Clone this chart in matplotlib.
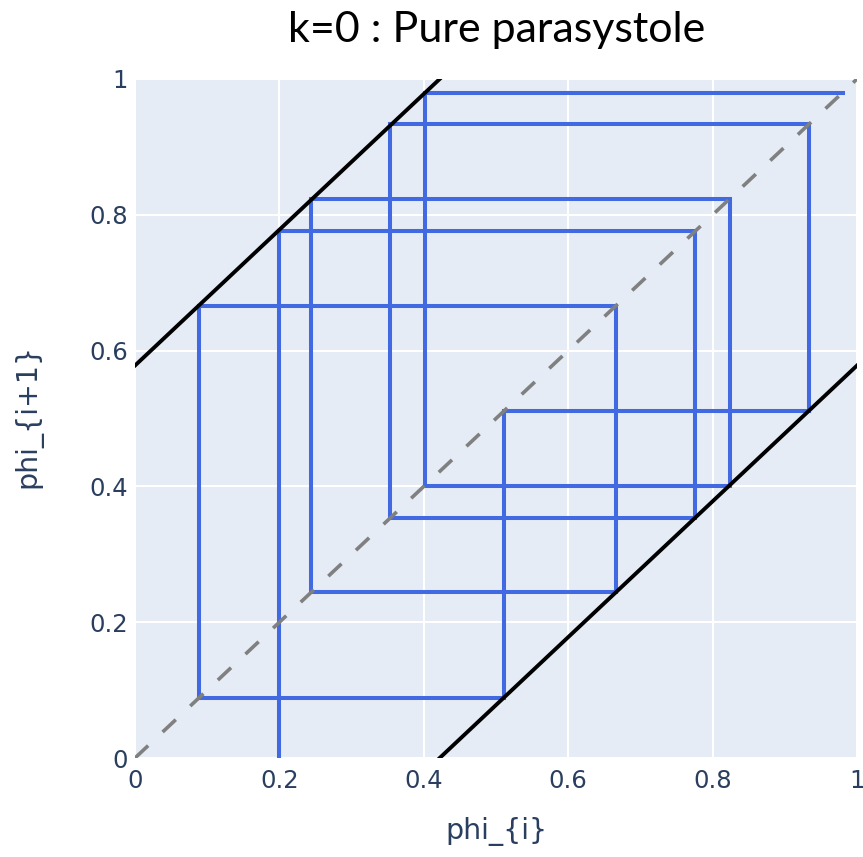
import matplotlib
matplotlib.use('Agg')
import matplotlib.pyplot as plt

# phi values of the cobweb (phi_i -> phi_{i+1})
phi = [0.200, 0.776, 0.353, 0.933, 0.511, 0.088, 0.666, 0.244, 0.824, 0.401, 0.980]
# the two branches of the circle map, as end points
upper_x = [0.0, 0.422]
upper_y = [0.578, 1.0]
lower_x = [0.422, 1.0]
lower_y = [0.0, 0.578]
diag = [0.0, 1.0]
ticks = [0, 0.2, 0.4, 0.6, 0.8, 1]
tick_labels = ['0', '0.2', '0.4', '0.6', '0.8', '1']

W, H = 863, 857
TXT = '#2a3f5f'


def main():
    # staircase path: up/down to the map, across to the diagonal
    xs, ys = [phi[0]], [0.0]
    for a, b in zip(phi[:-1], phi[1:]):
        xs += [a, b]
        ys += [b, b]

    fig = plt.figure(figsize=(W / 100, H / 100), dpi=100)
    ax = fig.add_axes([135 / W, (H - 758) / H, (857 - 135) / W, (758 - 79) / H])
    ax.set_facecolor('#E5ECF6')
    for s in ax.spines.values():
        s.set_visible(False)

    ax.plot(xs, ys, color='#4169E1', lw=2.9, solid_joinstyle='miter', zorder=3)
    ax.plot(upper_x, upper_y, color='black', lw=2.8, zorder=4)
    ax.plot(lower_x, lower_y, color='black', lw=2.8, zorder=4)
    ax.plot(diag, diag, color='grey', lw=2.6, dashes=(5, 5.5), zorder=5)

    ax.set_xlim(0, 1); ax.set_ylim(0, 1)
    ax.set_xticks(ticks, tick_labels); ax.set_yticks(ticks, tick_labels)
    ax.tick_params(length=0, labelsize=17.5, labelcolor=TXT)
    ax.tick_params(axis='x', pad=8); ax.tick_params(axis='y', pad=5)
    ax.grid(color='white', lw=1.5)
    ax.set_axisbelow(True)

    fig.text(496 / W, 1 - 832 / H, 'phi_{i}', ha='center', va='center',
             fontsize=20.5, color=TXT)
    fig.text(28 / W, 1 - 416 / H, 'phi_{i+1}', ha='center', va='center',
             rotation=90, fontsize=20.5, color=TXT)
    fig.text(497 / W, 1 - 30 / H, 'k=0 : Pure parasystole', ha='center',
             va='center', fontsize=31, color='black', family='Lato')

    fig.savefig('out.png', dpi=100)
    plt.close(fig)


if __name__ == '__main__':
    main()
